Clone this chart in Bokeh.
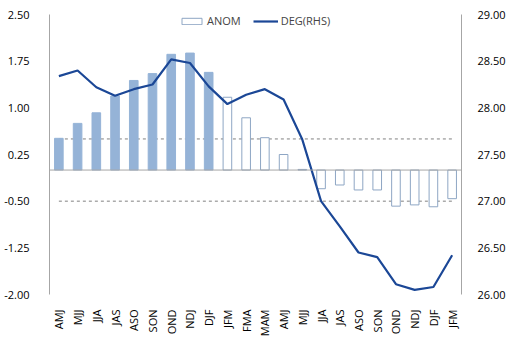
import math
from bokeh.plotting import figure
from bokeh.models import (Range1d, LinearAxis, FixedTicker, Span, Legend, LegendItem,
                          NumeralTickFormatter)
from bokeh.embed import file_html
from bokeh.resources import INLINE

seasons = ["AMJ", "MJJ", "JJA", "JAS", "ASO", "SON", "OND", "NDJ", "DJF", "JFM", "FMA",
           "MAM", "AMJ", "MJJ", "JJA", "JAS", "ASO", "SON", "OND", "NDJ", "DJF", "JFM"]
anom = [0.51, 0.75, 0.92, 1.19, 1.44, 1.55, 1.86, 1.88, 1.57, 1.17, 0.84,
        0.52, 0.25, 0.01, -0.30, -0.24, -0.32, -0.32, -0.58, -0.56, -0.59, -0.46]
deg = [28.34, 28.40, 28.22, 28.13, 28.20, 28.25, 28.52, 28.48, 28.23, 28.04, 28.14,
       28.20, 28.09, 27.66, 27.00, 26.73, 26.45, 26.40, 26.11, 26.05, 26.08, 26.42]
n_observed = 9
left_ticks = [-2.0, -1.25, -0.5, 0.25, 1.0, 1.75, 2.5]
right_ticks = [26.0, 26.5, 27.0, 27.5, 28.0, 28.5, 29.0]
ref_levels = [0.5, -0.5]

FONT = "Open Sans"
idx = list(range(len(seasons)))

p = figure(width=511, height=341, output_backend="svg", toolbar_location=None,
           x_range=Range1d(-0.5, len(seasons) - 0.5), y_range=Range1d(-2.0, 2.5),
           min_border_left=49, min_border_right=50, min_border_top=14, min_border_bottom=47)
p.extra_y_ranges = {"rhs": Range1d(26.0, 29.0)}
p.outline_line_color = None
p.grid.visible = False
p.background_fill_color = "white"

# zero line
p.add_layout(Span(location=0, dimension="width", line_color="#A6A6A6", line_width=1))

# dashed reference lines
for lv in ref_levels:
    p.line([idx[0], idx[-1]], [lv, lv], line_color="#808080", line_width=1, line_dash="3 3")

# bars
p.vbar(x=idx[:n_observed], top=anom[:n_observed], bottom=0, width=0.46,
       fill_color="#95B3D7", line_color="#95B3D7")
r_out = p.vbar(x=idx[n_observed:], top=anom[n_observed:], bottom=0, width=0.46,
               fill_color="white", line_color="#8EA6C4", line_width=1)

# line
r_line = p.line(idx, deg, y_range_name="rhs", line_color="#1B4796", line_width=2.2)

# axes
xa = p.xaxis[0]
xa.ticker = FixedTicker(ticks=idx)
xa.major_label_overrides = {i: s for i, s in enumerate(seasons)}
xa.major_label_orientation = math.pi / 2
xa.axis_line_color = None
xa.major_tick_line_color = None
xa.minor_tick_line_color = None
xa.major_label_standoff = 9
xa.major_label_text_font = FONT
xa.major_label_text_font_size = "11px"
xa.major_label_text_color = "#000000"

ya = p.yaxis[0]
ya.ticker = FixedTicker(ticks=left_ticks)
ya.formatter = NumeralTickFormatter(format="0.00")
ya.axis_line_color = "#A6A6A6"
ya.major_tick_line_color = None
ya.minor_tick_line_color = None
ya.major_label_standoff = 14
ya.major_label_text_font = FONT
ya.major_label_text_font_size = "11px"
ya.major_label_text_color = "#000000"

ra = LinearAxis(y_range_name="rhs", ticker=FixedTicker(ticks=right_ticks),
                formatter=NumeralTickFormatter(format="0.00"))
ra.axis_line_color = "#A6A6A6"
ra.major_tick_line_color = None
ra.minor_tick_line_color = None
ra.major_label_standoff = 10
ra.major_label_text_font = FONT
ra.major_label_text_font_size = "11px"
ra.major_label_text_color = "#000000"
p.add_layout(ra, "right")

legend = Legend(items=[LegendItem(label="ANOM", renderers=[r_out]),
                       LegendItem(label="DEG(RHS)", renderers=[r_line])],
                location=(130, 266), orientation="horizontal",
                glyph_width=25, glyph_height=8, padding=0, margin=0, spacing=12,
                label_standoff=3, border_line_color=None, background_fill_alpha=0,
                label_text_font=FONT, label_text_font_size="11px")
p.add_layout(legend, "center")

open("out.html", "w").write(file_html(p, INLINE))
